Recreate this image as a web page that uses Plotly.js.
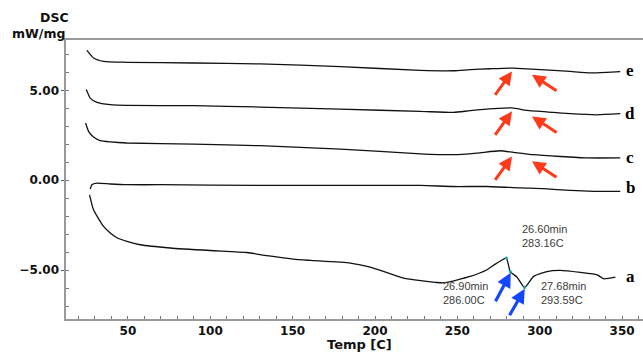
<!DOCTYPE html>
<html>
<head>
<meta charset="utf-8">
<script src="https://cdn.plot.ly/plotly-3.0.1.min.js"></script>
<style>
  html, body { margin: 0; padding: 0; background: #fff; }
  #chart { width: 643px; height: 352px; }
</style>
</head>
<body>
<div id="chart"></div>
<script>
// ---- data (Temp [C], DSC mW/mg) ----
const tempE = [25.1, 29.1, 35.2, 49.4, 89.8, 130.3, 179, 227.6, 247.7, 257.8, 270, 284.1, 292.3, 308.4, 318.6, 330.7, 340.8, 348.9];
const dscE  = [7.22, 6.80, 6.61, 6.56, 6.52, 6.47, 6.32, 6.11, 6.09, 6.15, 6.20, 6.24, 6.19, 6.11, 6.05, 5.97, 6.00, 6.04];

const tempD = [24.7, 27.1, 31.2, 39.3, 49.4, 89.8, 130.3, 179, 227.6, 247.7, 257.8, 272.0, 283.2, 292.3, 308.4, 318.6, 334.8, 348.9];
const dscD  = [5.04, 4.57, 4.33, 4.20, 4.16, 4.15, 4.07, 3.95, 3.83, 3.77, 3.87, 3.98, 4.02, 3.88, 3.77, 3.70, 3.64, 3.70];

const tempC = [24.3, 26.1, 29.1, 33.2, 39.3, 49.4, 89.8, 130.3, 179, 227.6, 247.7, 261.9, 276.0, 284.1, 296.3, 312.5, 328.7, 348.9];
const dscC  = [3.18, 2.72, 2.40, 2.20, 2.13, 2.07, 2.01, 1.92, 1.73, 1.47, 1.42, 1.51, 1.64, 1.55, 1.42, 1.32, 1.24, 1.24];

const tempB = [27.1, 28.1, 31.2, 39.3, 49.4, 69.6, 130.3, 160.7, 191, 227.6, 247.7, 268.0, 288.2, 302.3, 318.6, 332.7, 348.9];
const dscB  = [-0.49, -0.25, -0.16, -0.21, -0.25, -0.25, -0.29, -0.29, -0.29, -0.29, -0.35, -0.35, -0.43, -0.47, -0.57, -0.62, -0.62];

const tempA = [26.7, 29.1, 35.2, 39.3, 43.3, 49.4, 57.5, 75.7, 100, 122.3, 134.4, 150.5, 160.7, 185, 197.1, 217.3, 237.6, 242.7, 257.8, 268.0, 273, 279.7, 282.1, 286.2, 290.8, 296.3, 304.4, 312.5, 324.6, 334.8, 338.8, 345.9];
const dscA  = [-0.81, -1.64, -2.57, -2.94, -3.20, -3.40, -3.59, -3.77, -3.91, -4.02, -4.20, -4.39, -4.46, -4.61, -4.83, -5.44, -5.69, -5.70, -5.35, -4.98, -4.67, -4.33, -5.08, -5.39, -5.97, -5.35, -5.08, -5.02, -5.13, -5.26, -5.48, -5.39];

// picked points on curve a
const pickTemp = [279.7, 282.1, 290.8];
const pickDsc  = [-4.33, -5.08, -5.97];

const curveNames = ['a', 'b', 'c', 'd', 'e'];
const pickLabels = ['26.60min<br>283.16C', '26.90min<br>286.00C', '27.68min<br>293.59C'];
const yTitleLines = ['DSC', 'mW/mg'];
const xTitle = 'Temp [C]';

// ---- traces ----
const lineStyle = { color: '#111111', width: 1.3, shape: 'spline', smoothing: 0.5 };
const series = [[tempA, dscA], [tempB, dscB], [tempC, dscC], [tempD, dscD], [tempE, dscE]];
const traces = series.map((s, i) => ({
  x: s[0], y: s[1], name: curveNames[i], type: 'scatter', mode: 'lines',
  line: lineStyle, hoverinfo: 'skip'
}));
traces.push({
  x: pickTemp, y: pickDsc, type: 'scatter', mode: 'markers',
  marker: { color: '#16a8a8', size: 3 }, hoverinfo: 'skip'
});

// ---- annotations ----
const ann = [];
// curve letters
const letterY = [-5.35, -0.43, 1.24, 3.70, 6.11];
curveNames.forEach((n, i) => ann.push({
  x: 355, y: letterY[i], xref: 'x', yref: 'y', text: n, showarrow: false,
  xanchor: 'center', yanchor: 'middle',
  font: { family: 'Liberation Serif', size: 17, color: '#000', weight: 'bold' }
}));
// picked point texts
const pickTextPos = [[288.2, -3.11], [239.8, -6.30], [299.6, -6.30]];
pickLabels.forEach((t, i) => ann.push({
  x: pickTextPos[i][0], y: pickTextPos[i][1], xref: 'x', yref: 'y', text: t,
  showarrow: false, xanchor: 'left', yanchor: 'middle', align: 'left',
  font: { family: 'Liberation Sans', size: 11, color: '#3c3c3c' }
}));
// red arrows (pairs for c, d, e)
const red = '#ff3a1a';
[[6.05, 5.87], [3.83, 3.55], [1.32, 1.05]].forEach(p => {
  ann.push({ x: 283.2, y: p[0], xref: 'x', yref: 'y', ax: -18, ay: 25, showarrow: true,
    arrowhead: 2, arrowsize: 0.9, arrowwidth: 3, arrowcolor: red, text: '' });
  ann.push({ x: 295.3, y: p[1], xref: 'x', yref: 'y', ax: 26, ay: 17, showarrow: true,
    arrowhead: 2, arrowsize: 0.9, arrowwidth: 3, arrowcolor: red, text: '' });
});
// blue arrows
const blue = '#1446ff';
ann.push({ x: 282.4, y: -5.15, xref: 'x', yref: 'y', ax: -16, ay: 30, showarrow: true,
  arrowhead: 2, arrowsize: 0.9, arrowwidth: 3.2, arrowcolor: blue, text: '' });
ann.push({ x: 290.9, y: -6.04, xref: 'x', yref: 'y', ax: -16, ay: 28, showarrow: true,
  arrowhead: 2, arrowsize: 0.9, arrowwidth: 3.2, arrowcolor: blue, text: '' });
// axis titles
const titleFont = { family: 'DejaVu Sans', size: 12.5, color: '#111', weight: 'bold' };
ann.push({ x: -0.0205, y: 1.0806, xref: 'paper', yref: 'paper', text: yTitleLines[0],
  showarrow: false, xanchor: 'center', yanchor: 'middle', font: titleFont });
ann.push({ x: -0.048, y: 1.025, xref: 'paper', yref: 'paper', text: yTitleLines[1],
  showarrow: false, xanchor: 'center', yanchor: 'middle', font: titleFont });
ann.push({ x: 0.5095, y: -0.0914, xref: 'paper', yref: 'paper', text: xTitle,
  showarrow: false, xanchor: 'center', yanchor: 'middle',
  font: { family: 'DejaVu Sans', size: 13, color: '#111', weight: 'bold' } });

const tickFont = { family: 'DejaVu Sans', size: 12, color: '#111', weight: 'bold' };
const layout = {
  width: 643, height: 352,
  margin: { l: 66, r: 0, t: 40, b: 33, pad: 0 },
  paper_bgcolor: '#fff', plot_bgcolor: '#fff',
  showlegend: false,
  xaxis: {
    range: [12.4, 362.7], tick0: 0, dtick: 50,
    showgrid: false, zeroline: false,
    showline: true, linecolor: '#9a9a9a', linewidth: 1.6, mirror: true,
    ticks: 'inside', ticklen: 3, tickcolor: '#777', tickwidth: 1,
    minor: { dtick: 10, ticks: 'inside', ticklen: 3, tickcolor: '#777', tickwidth: 1 },
    tickfont: tickFont
  },
  yaxis: {
    range: [-7.72, 7.80], tick0: 0, dtick: 5, tickformat: '.2f',
    showgrid: false, zeroline: false,
    showline: true, linecolor: '#9a9a9a', linewidth: 1.6,
    ticks: 'outside', ticklen: 3, tickcolor: '#555', tickwidth: 1,
    minor: { dtick: 1, ticks: 'inside', ticklen: 3, tickcolor: '#777', tickwidth: 1 },
    tickfont: tickFont
  },
  annotations: ann
};

Plotly.newPlot('chart', traces, layout, { staticPlot: true, displayModeBar: false });
</script>
</body>
</html>
